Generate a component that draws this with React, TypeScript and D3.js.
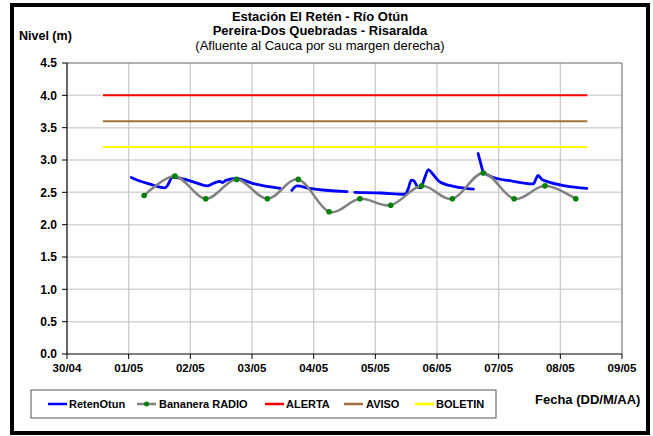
import React from "react";
import * as d3 from "d3";

const W = 653;
const H = 436;

const titleLines = [
  "Estación El Retén - Río Otún",
  "Pereira-Dos Quebradas - Risaralda",
  "(Afluente al Cauca por su margen derecha)",
];
const yLabel = "Nivel (m)";
const xLabel = "Fecha (DD/M/AA)";

const xTickLabels = ["30/04", "01/05", "02/05", "03/05", "04/05", "05/05", "06/05", "07/05", "08/05", "09/05"];
const xTickTimes = ["04-30 00:00", "05-01 00:00", "05-02 00:00", "05-03 00:00", "05-04 00:00", "05-05 00:00", "05-06 00:00", "05-07 00:00", "05-08 00:00", "05-09 00:00"];
const yTicks = [0, 0.5, 1, 1.5, 2, 2.5, 3, 3.5, 4, 4.5];

// RetenOtun (null = gap)
const retenTimes = [
  "05-01 01:00", "05-01 04:00", "05-01 08:00", "05-01 14:00", "05-01 15:00", "05-01 17:00", "05-01 20:00",
  "05-02 02:00", "05-02 06:30", "05-02 09:00", "05-02 11:30", "05-02 12:30", "05-02 14:00", "05-02 18:00",
  "05-03 01:00", "05-03 11:00", "05-03 13:00",
  "05-03 15:30", "05-03 17:30", "05-03 22:30", "05-04 13:00", "05-04 14:30",
  "05-04 16:00", "05-05 02:00", "05-05 11:30", "05-05 12:45", "05-05 14:00", "05-05 15:00", "05-05 16:30",
  "05-05 17:45", "05-05 19:00", "05-05 20:40", "05-05 22:00", "05-06 01:10", "05-06 07:00", "05-06 14:10", "05-06 15:00",
  "05-06 16:00", "05-06 17:00", "05-06 18:00", "05-06 22:00", "05-07 04:20", "05-07 13:30", "05-07 14:40",
  "05-07 15:20", "05-07 16:50", "05-07 18:40", "05-08 02:00", "05-08 10:20",
];
const retenValues: (number | null)[] = [
  2.73, 2.68, 2.63, 2.57, 2.60, 2.73, 2.72,
  2.65, 2.60, 2.64, 2.67, 2.65, 2.69, 2.71,
  2.63, 2.56, null,
  2.53, 2.60, 2.56, 2.51, null,
  2.50, 2.49, 2.47, 2.55, 2.69, 2.68, 2.58,
  2.57, 2.70, 2.85, 2.80, 2.66, 2.59, 2.55, null,
  3.10, 2.95, 2.82, 2.73, 2.68, 2.63, 2.72,
  2.76, 2.70, 2.67, 2.60, 2.56,
];

// Bananera RADIO
const radioTimes = [
  "05-01 06:00", "05-01 18:00", "05-02 06:00", "05-02 18:00", "05-03 06:00", "05-03 18:00",
  "05-04 06:00", "05-04 18:00", "05-05 06:00", "05-05 18:00", "05-06 06:00", "05-06 18:00",
  "05-07 06:00", "05-07 18:00", "05-08 06:00",
];
const radioValues = [2.45, 2.75, 2.40, 2.70, 2.40, 2.70, 2.20, 2.40, 2.30, 2.60, 2.40, 2.80, 2.40, 2.60, 2.40];

// Thresholds
const thresholdNames = ["ALERTA", "AVISO", "BOLETIN"];
const thresholdValues = [4.0, 3.6, 3.2];
const thresholdColors = ["#ff0000", "#a0703c", "#ffff00"];
const thresholdStart = "04-30 14:00";
const thresholdEnd = "05-08 10:30";

const parse = d3.timeParse("%m-%d %H:%M");

export default function App() {
  const left = 67, right = 622, top = 63, bottom = 354;
  const x = d3
    .scaleTime()
    .domain([parse("04-30 00:00")!, parse("05-09 00:00")!])
    .range([left, right]);
  const y = d3.scaleLinear().domain([0, 4.5]).range([bottom, top]);

  const reten = retenTimes.map((t, i) => ({ t: parse(t)!, v: retenValues[i] }));
  const radio = radioTimes.map((t, i) => ({ t: parse(t)!, v: radioValues[i] }));

  const retenLine = d3
    .line<{ t: Date; v: number | null }>()
    .defined((d) => d.v !== null)
    .x((d) => x(d.t))
    .y((d) => y(d.v as number))
    .curve(d3.curveMonotoneX);

  const radioLine = d3
    .line<{ t: Date; v: number }>()
    .x((d) => x(d.t))
    .y((d) => y(d.v))
    .curve(d3.curveCardinal.tension(0));

  const font = "'Liberation Sans', Arial, sans-serif";
  const xt = xTickTimes.map((t) => parse(t)!);

  const legendItems = [
    { name: "RetenOtun", color: "#0000ff", marker: false, x: 48, tx: 69 },
    { name: "Bananera RADIO", color: "#808080", marker: true, x: 137, tx: 159 },
    { name: thresholdNames[0], color: thresholdColors[0], marker: false, x: 265, tx: 286 },
    { name: thresholdNames[1], color: thresholdColors[1], marker: false, x: 344, tx: 366 },
    { name: thresholdNames[2], color: thresholdColors[2], marker: false, x: 415, tx: 436 },
  ];

  return (
    <svg width={W} height={H} style={{ position: "absolute", left: 0, top: 0, fontFamily: font }}>
      <rect x={0} y={0} width={W} height={H} fill="#ffffff" />
      <rect x={12} y={5} width={636} height={428} fill="#ffffff" stroke="#000" strokeWidth={4} />

      {/* grid */}
      {yTicks.slice(1).map((v) => (
        <line key={"gy" + v} x1={left} x2={right} y1={y(v)} y2={y(v)} stroke="#d6d6d6" strokeWidth={1.5} />
      ))}
      {xt.slice(1).map((d, i) => (
        <line key={"gx" + i} x1={x(d)} x2={x(d)} y1={top} y2={bottom} stroke="#c8c8c8" strokeWidth={1.2} />
      ))}
      {/* frame */}
      <line x1={left} x2={right} y1={top} y2={top} stroke="#808080" strokeWidth={1} />
      <line x1={right} x2={right} y1={top} y2={bottom} stroke="#808080" strokeWidth={1} />

      {/* thresholds */}
      {thresholdValues.map((v, i) => (
        <line
          key={"th" + i}
          x1={x(parse(thresholdStart)!)}
          x2={x(parse(thresholdEnd)!)}
          y1={y(v)}
          y2={y(v)}
          stroke={thresholdColors[i]}
          strokeWidth={2}
        />
      ))}

      {/* series */}
      <path d={retenLine(reten) || ""} fill="none" stroke="#0000ff" strokeWidth={2.8} strokeLinejoin="round" strokeLinecap="round" />
      <path d={radioLine(radio) || ""} fill="none" stroke="#808080" strokeWidth={2.5} />
      {radio.map((d, i) => (
        <circle key={"m" + i} cx={x(d.t)} cy={y(d.v)} r={2.8} fill="#008000" />
      ))}

      {/* axes */}
      <line x1={left} x2={left} y1={top} y2={bottom} stroke="#000" strokeWidth={1.2} />
      <line x1={left} x2={right} y1={bottom} y2={bottom} stroke="#000" strokeWidth={1.2} />
      {yTicks.map((v) => (
        <g key={"yt" + v}>
          <line x1={left - 5} x2={left} y1={y(v)} y2={y(v)} stroke="#000" strokeWidth={1} />
          <text x={57} y={y(v)} dy="0.35em" textAnchor="end" fontSize={12} fontWeight="bold">
            {v.toFixed(1)}
          </text>
        </g>
      ))}
      {xt.map((d, i) => (
        <g key={"xt" + i}>
          <line x1={x(d)} x2={x(d)} y1={bottom} y2={bottom + 5} stroke="#000" strokeWidth={1} />
          <text x={x(d)} y={372} textAnchor="middle" fontSize={11.5} fontWeight="bold">
            {xTickLabels[i]}
          </text>
        </g>
      ))}

      {/* titles */}
      <text x={320} y={21} textAnchor="middle" fontSize={13} fontWeight="bold">{titleLines[0]}</text>
      <text x={320} y={35} textAnchor="middle" fontSize={13} fontWeight="bold">{titleLines[1]}</text>
      <text x={320} y={50} textAnchor="middle" fontSize={13}>{titleLines[2]}</text>
      <text x={19} y={40} fontSize={12.5} fontWeight="bold">{yLabel}</text>
      <text x={535} y={404} fontSize={13} fontWeight="bold">{xLabel}</text>

      {/* legend */}
      <rect x={31} y={390} width={465} height={28} fill="#fff" stroke="#555" strokeWidth={1} />
      {legendItems.map((it) => (
        <g key={it.name}>
          <line x1={it.x} x2={it.x + 19} y1={404} y2={404} stroke={it.color} strokeWidth={2.5} />
          {it.marker && <circle cx={it.x + 9.5} cy={404} r={2.5} fill="#008000" />}
          <text x={it.tx} y={404} dy="0.35em" fontSize={11} fontWeight="bold">{it.name}</text>
        </g>
      ))}
    </svg>
  );
}
